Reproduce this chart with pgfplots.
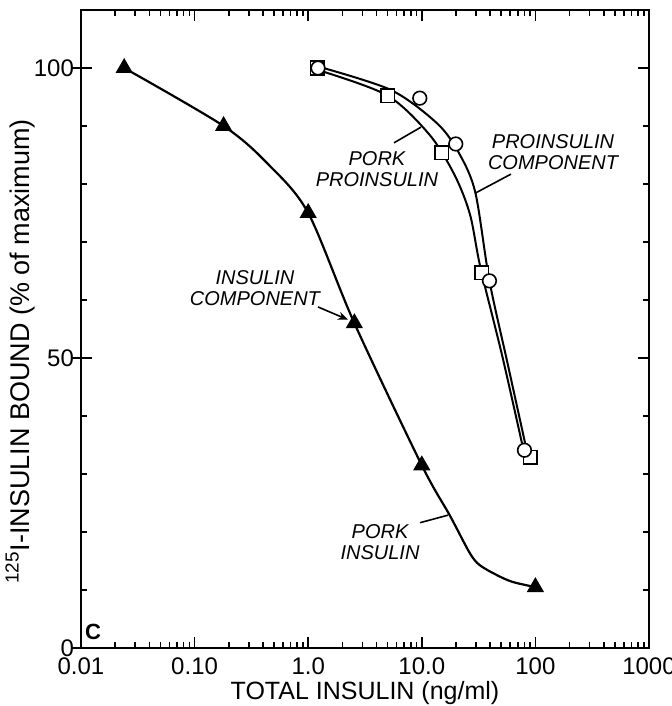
\documentclass[border=0pt]{standalone}
\usepackage{fontspec}
\setmainfont{Liberation Sans}
\usepackage{pgfplots}
\pgfplotsset{compat=1.18}
\usetikzlibrary{arrows.meta}

\begin{document}
\begin{tikzpicture}
\useasboundingbox (-40.5pt,-29pt) rectangle (295pt,324pt);
\begin{axis}[
    xmode=log, log basis x=10,
    scale only axis, width=284pt, height=319pt,
    at={(0pt,0pt)}, anchor=south west,
    xmin=0.01, xmax=1000, ymin=0, ymax=110,
    xtick={0.01,0.1,1,10,100,1000},
    xticklabels={0.01,0.10,1.0,10.0,100,1000},
    minor xtick={0.02,0.03,0.04,0.05,0.06,0.07,0.08,0.09,
                 0.2,0.3,0.4,0.5,0.6,0.7,0.8,0.9,
                 2,3,4,5,6,7,8,9,20,30,40,50,60,70,80,90,
                 200,300,400,500,600,700,800,900},
    ytick={0,50,100}, yticklabels={0,50,100},
    minor ytick={10,20,30,40,60,70,80,90},
    tick align=inside,
    major tick length=5.5pt, minor tick length=3pt,
    every tick/.append style={black, line width=0.8pt},
    axis line style={line width=0.9pt},
    tick label style={font=\fontsize{12}{14}\selectfont},
    xticklabel style={yshift=-1.5pt},
    xlabel={TOTAL INSULIN (ng/ml)},
    ylabel={\textsuperscript{125}I-INSULIN BOUND (\% of maximum)},
    every axis x label/.style={at={(axis description cs:0.5,-0.071)},anchor=center,
        font=\fontsize{12.5}{14}\selectfont},
    every axis y label/.style={at={(axis description cs:-0.1074,0.465)},rotate=90,anchor=center,
        font=\fontsize{13.5}{15}\selectfont},
    clip=false,
]

% pork insulin curve
\addplot[line width=1.1pt, smooth, tension=0.5] coordinates {
    (0.024,100) (0.18,90) (0.45,83.3) (1.0,75) (2.55,56)
    (10,31.5) (17.6,22.9) (26.4,16.4) (32.3,14.3) (45.5,12.6) (62.8,11.4) (100,10.5)
};
% pork proinsulin curve (inner)
\addplot[line width=1.0pt, smooth, tension=0.5] coordinates {
    (1.196,99.7) (4.94,95.3) (11.8,88.4) (19.6,81.4) (26.6,74.7) (32.9,65.5)
    (51,50.4) (76.2,35.3)
};
% proinsulin component curve (outer)
\addplot[line width=1.0pt, smooth, tension=0.5] coordinates {
    (1.196,100.3) (5.36,96.2) (13.9,90.3) (21.7,85.0) (29.7,78.4) (39.4,63.3)
    (57,49) (82.7,34.6)
};

% insulin component
\addplot[only marks, mark=triangle*, mark size=4.4pt,
    mark options={fill=black, line width=0.6pt}] coordinates {
    (0.024,100) (0.18,90) (1.0,75) (2.55,56) (10,31.5) (100,10.5)
};
% pork proinsulin
\addplot[only marks, mark=square*, mark size=3.4pt,
    mark options={fill=white, draw=black, line width=0.8pt}] coordinates {
    (1.2,100) (5.0,95.2) (15,85.4) (33.6,64.7) (90.4,32.9)
};
% proinsulin component
\addplot[only marks, mark=*, mark size=3.4pt,
    mark options={fill=white, draw=black, line width=0.8pt}] coordinates {
    (1.22,100) (9.6,94.8) (19.9,86.9) (39.4,63.3) (80.1,34.1)
};

% outer part of the labelled y ticks
\draw[line width=0.8pt] (axis cs:0.01,0) -- ++(-5pt,0pt);
\draw[line width=0.8pt] (axis cs:0.01,50) -- ++(-5pt,0pt);
\draw[line width=0.8pt] (axis cs:0.01,100) -- ++(-5pt,0pt);

% annotations
\node[font=\fontsize{10}{10.5}\selectfont\itshape, align=center] at (axis cs:4.03,82.6) {PORK\\PROINSULIN};
\draw[line width=0.8pt] (axis cs:5.69,87.1) -- (axis cs:9.84,89.8);

\node[font=\fontsize{10}{10.5}\selectfont\itshape, align=center] at (axis cs:143,85.5) {PROINSULIN\\COMPONENT};
\draw[line width=0.8pt] (axis cs:60.9,81.7) -- (axis cs:29.4,78.4);

\node[font=\fontsize{10}{10.5}\selectfont\itshape, align=center] at (axis cs:0.34,62.0) {INSULIN\\COMPONENT};
\draw[line width=0.8pt, -{Stealth[length=5pt,width=4pt]}] (axis cs:1.22,58.8) -- (axis cs:2.24,56.6);

\node[font=\fontsize{10}{10.5}\selectfont\itshape, align=center] at (axis cs:4.29,18.2) {PORK\\INSULIN};
\draw[line width=0.8pt] (axis cs:9.64,21.6) -- (axis cs:17.0,22.9);

\node[font=\fontsize{11}{12}\selectfont\bfseries] at (axis cs:0.0128,2.8) {C};
\end{axis}
\end{tikzpicture}
\end{document}
